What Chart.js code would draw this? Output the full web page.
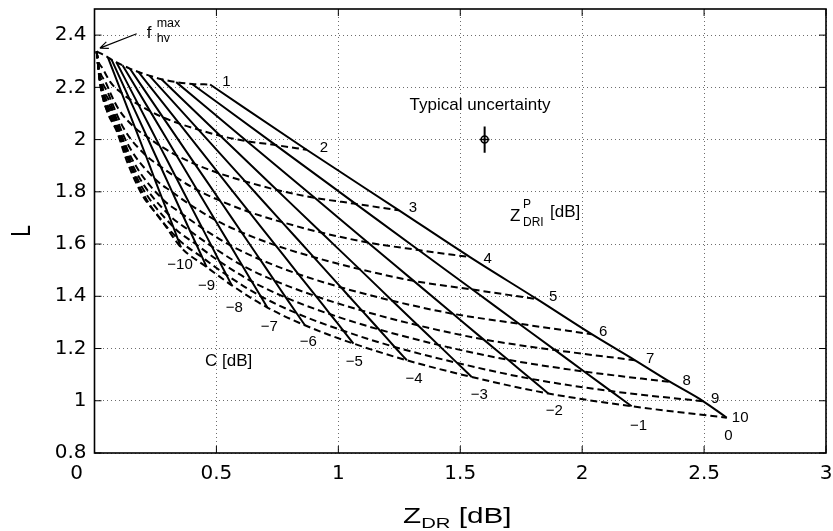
<!DOCTYPE html>
<html>
<head>
<meta charset="utf-8">
<script src="https://cdn.jsdelivr.net/npm/chart.js@4.4.1/dist/chart.umd.min.js"></script>
<style>
  html, body { margin: 0; padding: 0; background: #fff; }
  #wrap { width: 833px; height: 531px; }
</style>
</head>
<body>
<div id="wrap"><canvas id="chart" width="833" height="531"></canvas></div>
<script>
// values: one row per C [dB], points for Z_DRI^P = 1..10
const cValues = [-10, -9, -8, -7, -6, -5, -4, -3, -2, -1, 0];
const zdrpValues = [1, 2, 3, 4, 5, 6, 7, 8, 9, 10];
const fhvMax = [0.009, 2.338]; // where all dashed lines meet (ZDR, L)

const zdr_Cm10 = [0.055, 0.112, 0.167, 0.210, 0.246, 0.278, 0.303, 0.323, 0.341, 0.355];
const L_Cm10   = [2.315, 2.177, 2.044, 1.940, 1.851, 1.773, 1.714, 1.666, 1.621, 1.587];
const zdr_Cm9  = [0.070, 0.144, 0.215, 0.271, 0.319, 0.360, 0.392, 0.418, 0.442, 0.460];
const L_Cm9    = [2.306, 2.155, 2.011, 1.897, 1.799, 1.715, 1.650, 1.598, 1.549, 1.512];
const zdr_Cm8  = [0.090, 0.180, 0.266, 0.334, 0.392, 0.442, 0.481, 0.512, 0.541, 0.563];
const L_Cm8    = [2.296, 2.134, 1.978, 1.856, 1.751, 1.661, 1.591, 1.534, 1.482, 1.442];
const zdr_Cm7  = [0.115, 0.228, 0.336, 0.421, 0.494, 0.557, 0.606, 0.645, 0.681, 0.709];
const L_Cm7    = [2.285, 2.109, 1.940, 1.807, 1.693, 1.595, 1.518, 1.457, 1.401, 1.357];
const zdr_Cm6  = [0.145, 0.281, 0.412, 0.515, 0.603, 0.679, 0.738, 0.785, 0.829, 0.863];
const L_Cm6    = [2.272, 2.085, 1.906, 1.766, 1.645, 1.541, 1.460, 1.395, 1.335, 1.289];
const zdr_Cm5  = [0.180, 0.348, 0.508, 0.634, 0.743, 0.836, 0.909, 0.967, 1.021, 1.062];
const L_Cm5    = [2.259, 2.061, 1.872, 1.723, 1.595, 1.485, 1.400, 1.331, 1.268, 1.219];
const zdr_Cm4  = [0.225, 0.426, 0.618, 0.769, 0.899, 1.011, 1.097, 1.167, 1.231, 1.281];
const L_Cm4    = [2.245, 2.038, 1.840, 1.684, 1.550, 1.434, 1.345, 1.273, 1.206, 1.155];
const zdr_Cm3  = [0.275, 0.517, 0.748, 0.930, 1.087, 1.221, 1.326, 1.410, 1.487, 1.547];
const L_Cm3    = [2.231, 2.014, 1.807, 1.644, 1.504, 1.383, 1.289, 1.214, 1.145, 1.091];
const zdr_Cm2  = [0.335, 0.625, 0.903, 1.121, 1.309, 1.470, 1.595, 1.696, 1.789, 1.861];
const L_Cm2    = [2.220, 1.994, 1.777, 1.606, 1.459, 1.333, 1.235, 1.157, 1.084, 1.028];
const zdr_Cm1  = [0.400, 0.743, 1.071, 1.329, 1.550, 1.741, 1.889, 2.008, 2.118, 2.203];
const L_Cm1    = [2.213, 1.979, 1.754, 1.577, 1.426, 1.295, 1.194, 1.112, 1.037, 0.979];
const zdr_C0   = [0.474, 0.870, 1.249, 1.540, 1.815, 2.039, 2.217, 2.361, 2.497, 2.593];
const L_C0     = [2.211, 1.961, 1.729, 1.550, 1.389, 1.255, 1.155, 1.072, 0.998, 0.935];

// dashed lines running on from C = -10 dB up to f_hv^max (listed from the top point down)
const tailZdr = [
  [0.025, 0.040],
  [0.013, 0.034, 0.066],
  [0.015, 0.047, 0.096],
  [0.017, 0.057, 0.119],
  [0.018, 0.066, 0.139],
  [0.020, 0.074, 0.157],
  [0.021, 0.080, 0.170],
  [0.022, 0.084, 0.181],
  [0.022, 0.089, 0.191],
  [0.023, 0.051, 0.092, 0.133, 0.199, 0.269]
];
const tailL = [
  [2.330, 2.323],
  [2.311, 2.272, 2.219],
  [2.289, 2.217, 2.121],
  [2.272, 2.175, 2.044],
  [2.258, 2.138, 1.978],
  [2.245, 2.106, 1.920],
  [2.235, 2.082, 1.877],
  [2.227, 2.062, 1.841],
  [2.220, 2.044, 1.808],
  [2.214, 2.110, 2.030, 1.917, 1.783, 1.699]
];

// typical uncertainty marker
const uncZdr = 1.6, uncL = 2.0, uncHalfL = 0.05, uncHalfZdr = 0.02;

// label anchors (ZDR, L)
const zLabelZdr = [0.541, 0.941, 1.306, 1.612, 1.881, 2.086, 2.279, 2.429, 2.545, 2.648];
const zLabelL   = [2.222, 1.968, 1.737, 1.545, 1.396, 1.263, 1.159, 1.076, 1.006, 0.935];
const cLabelZdr = [0.351, 0.460, 0.573, 0.717, 0.877, 1.065, 1.311, 1.578, 1.886, 2.231, 2.600];
const cLabelL   = [1.522, 1.439, 1.356, 1.283, 1.225, 1.149, 1.082, 1.021, 0.961, 0.904, 0.865];

const xTicks = [0, 0.5, 1, 1.5, 2, 2.5, 3];
const yTicks = [0.8, 1, 1.2, 1.4, 1.6, 1.8, 2, 2.2, 2.4];

const zdrRows = [zdr_Cm10, zdr_Cm9, zdr_Cm8, zdr_Cm7, zdr_Cm6, zdr_Cm5, zdr_Cm4, zdr_Cm3, zdr_Cm2, zdr_Cm1, zdr_C0];
const lRows = [L_Cm10, L_Cm9, L_Cm8, L_Cm7, L_Cm6, L_Cm5, L_Cm4, L_Cm3, L_Cm2, L_Cm1, L_C0];

const FONT = '"Liberation Sans", Arial, Helvetica, sans-serif';
const LW = 2;

const datasets = [];
// solid: constant C, from Z_DRI^P = 1 to 10
cValues.forEach((c, i) => {
  datasets.push({
    label: 'C = ' + c + ' dB',
    data: zdrRows[i].map((z, k) => ({ x: z, y: lRows[i][k] })),
    showLine: true,
    borderColor: '#000',
    borderWidth: LW,
    pointRadius: 0,
    cubicInterpolationMode: 'monotone'
  });
});
// dashed: constant Z_DRI^P, across C
zdrpValues.forEach((zp, k) => {
  const pts = [{ x: fhvMax[0], y: fhvMax[1] }];
  tailZdr[k].forEach((z, j) => pts.push({ x: z, y: tailL[k][j] }));
  cValues.forEach((c, i) => pts.push({ x: zdrRows[i][k], y: lRows[i][k] }));
  datasets.push({
    label: 'ZDRI = ' + zp + ' dB',
    data: pts,
    showLine: true,
    borderColor: '#000',
    borderWidth: LW,
    borderDash: [7, 4],
    pointRadius: 0,
    cubicInterpolationMode: 'monotone'
  });
});
datasets.push({
  label: 'uncertainty L',
  data: [{ x: uncZdr, y: uncL - uncHalfL }, { x: uncZdr, y: uncL + uncHalfL }],
  showLine: true, borderColor: '#000', borderWidth: LW, pointRadius: 0
});
datasets.push({
  label: 'uncertainty ZDR',
  data: [{ x: uncZdr - uncHalfZdr, y: uncL }, { x: uncZdr + uncHalfZdr, y: uncL }],
  showLine: true, borderColor: '#000', borderWidth: 1.5, pointRadius: 0
});
datasets.push({
  label: 'typical',
  data: [{ x: uncZdr, y: uncL }],
  showLine: false, pointRadius: 3.5, pointStyle: 'circle',
  borderColor: '#000', borderWidth: 1.5, backgroundColor: 'rgba(0,0,0,0)'
});

function txt(ctx, s, x, y, size, align, base) {
  ctx.font = size + 'px ' + FONT;
  ctx.textAlign = align || 'center';
  ctx.textBaseline = base || 'middle';
  ctx.fillText(s, x, y);
}

const frame = {
  id: 'frame',
  afterDraw(chart) {
    const { ctx, chartArea: a, scales: { x, y } } = chart;
    ctx.save();
    ctx.strokeStyle = '#000';
    ctx.fillStyle = '#000';
    // box and inward ticks
    ctx.lineWidth = 1.6;
    ctx.strokeRect(a.left, a.top, a.right - a.left, a.bottom - a.top);
    ctx.lineWidth = 1;
    ctx.beginPath();
    xTicks.forEach(v => {
      const px = x.getPixelForValue(v);
      ctx.moveTo(px, a.bottom); ctx.lineTo(px, a.bottom - 7);
      ctx.moveTo(px, a.top); ctx.lineTo(px, a.top + 7);
    });
    yTicks.forEach(v => {
      const py = y.getPixelForValue(v);
      ctx.moveTo(a.left, py); ctx.lineTo(a.left + 7, py);
      ctx.moveTo(a.right, py); ctx.lineTo(a.right - 7, py);
    });
    ctx.stroke();

    // "0" of the x axis sits left of the corner
    ctx.font = '20px "DejaVu Sans", sans-serif';
    ctx.textAlign = 'center';
    ctx.textBaseline = 'middle';
    ctx.fillText('0', x.getPixelForValue(0) - 18, a.bottom + 21);

    // axis titles (stretched like the source figure)
    const sx = 1.35;
    ctx.save();
    const cx = (a.left + a.right) / 2 - 3;
    ctx.translate(cx, 523);
    ctx.scale(sx, 1);
    ctx.font = '22px ' + FONT;
    const wZ = ctx.measureText('Z').width;
    const wDB = ctx.measureText(' [dB]').width;
    ctx.font = '15px ' + FONT;
    const wDR = ctx.measureText('DR').width;
    const x0 = -(wZ + wDR + wDB) / 2;
    txt(ctx, 'Z', x0, 0, 22, 'left', 'alphabetic');
    txt(ctx, 'DR', x0 + wZ, 5, 15, 'left', 'alphabetic');
    txt(ctx, ' [dB]', x0 + wZ + wDR, 0, 22, 'left', 'alphabetic');
    ctx.restore();

    ctx.save();
    ctx.translate(22, (a.top + a.bottom) / 2);
    ctx.scale(sx, 1);
    ctx.rotate(-Math.PI / 2);
    txt(ctx, 'L', 0, 0, 21, 'center', 'middle');
    ctx.restore();
    ctx.restore();
  },
  afterDatasetsDraw(chart) {
    const { ctx, scales: { x, y } } = chart;
    ctx.save();
    ctx.fillStyle = '#000';
    ctx.strokeStyle = '#000';
    zdrpValues.forEach((zp, k) => {
      txt(ctx, String(zp), x.getPixelForValue(zLabelZdr[k]), y.getPixelForValue(zLabelL[k]), 15);
    });
    cValues.forEach((c, i) => {
      const s = c < 0 ? '\u2212' + Math.abs(c) : String(c);
      txt(ctx, s, x.getPixelForValue(cLabelZdr[i]), y.getPixelForValue(cLabelL[i]), 15);
    });

    // annotations
    txt(ctx, 'Typical uncertainty', x.getPixelForValue(1.581), y.getPixelForValue(2.113), 17, 'center', 'alphabetic');
    txt(ctx, 'C [dB]', x.getPixelForValue(0.453), y.getPixelForValue(1.132), 17, 'left', 'alphabetic');

    const zx = x.getPixelForValue(1.704), zy = y.getPixelForValue(1.687);
    txt(ctx, 'Z', zx, zy, 17, 'left', 'alphabetic');
    txt(ctx, 'P', zx + 13, zy - 13, 12, 'left', 'alphabetic');
    txt(ctx, 'DRI', zx + 13, zy + 5, 12, 'left', 'alphabetic');
    txt(ctx, '[dB]', zx + 40, zy - 4, 17, 'left', 'alphabetic');

    const fx = x.getPixelForValue(0.214), fy = y.getPixelForValue(2.389);
    txt(ctx, 'f', fx, fy, 17, 'left', 'alphabetic');
    txt(ctx, 'max', fx + 10, fy - 11, 12.5, 'left', 'alphabetic');
    txt(ctx, 'hv', fx + 10, fy + 4, 12.5, 'left', 'alphabetic');

    // arrow to f_hv^max
    const ax0 = x.getPixelForValue(0.173), ay0 = y.getPixelForValue(2.405);
    const ax1 = x.getPixelForValue(0.022), ay1 = y.getPixelForValue(2.350);
    const ang = Math.atan2(ay1 - ay0, ax1 - ax0);
    ctx.lineWidth = 1.2;
    ctx.beginPath();
    ctx.moveTo(ax0, ay0); ctx.lineTo(ax1, ay1);
    ctx.moveTo(ax1, ay1); ctx.lineTo(ax1 - 9 * Math.cos(ang - 0.4), ay1 - 9 * Math.sin(ang - 0.4));
    ctx.moveTo(ax1, ay1); ctx.lineTo(ax1 - 9 * Math.cos(ang + 0.4), ay1 - 9 * Math.sin(ang + 0.4));
    ctx.stroke();
    ctx.restore();
  }
};

const fmt = v => String(+Number(v).toFixed(2));

new Chart(document.getElementById('chart'), {
  type: 'scatter',
  data: { datasets },
  options: {
    responsive: false,
    animation: false,
    layout: { padding: { top: 9, right: 7, left: 0, bottom: 0 } },
    plugins: { legend: { display: false }, tooltip: { enabled: false } },
    scales: {
      x: {
        type: 'linear', min: 0, max: 3,
        afterBuildTicks: s => { s.ticks = xTicks.map(v => ({ value: v })); },
        afterFit: s => { s.height = 78; s.paddingLeft = 0; s.paddingRight = 0; },
        grid: { color: '#6d6d6d', lineWidth: 1, drawTicks: false },
        border: { display: false, dash: [1, 3] },
        ticks: {
          padding: 9, color: '#000',
          font: { family: '"DejaVu Sans", sans-serif', size: 20 },
          maxRotation: 0, autoSkip: false,
          callback: v => (v === 0 ? '' : fmt(v))
        }
      },
      y: {
        type: 'linear', min: 0.8, max: 2.5,
        afterBuildTicks: s => { s.ticks = yTicks.map(v => ({ value: v })); },
        afterFit: s => { s.width = 94.5; s.paddingTop = 0; s.paddingBottom = 0; },
        grid: { color: '#6d6d6d', lineWidth: 1, drawTicks: false },
        border: { display: false, dash: [1, 3] },
        ticks: {
          padding: 8, color: '#000',
          font: { family: '"DejaVu Sans", sans-serif', size: 20 },
          autoSkip: false,
          callback: v => fmt(v)
        }
      }
    }
  },
  plugins: [frame]
});
</script>
</body>
</html>
